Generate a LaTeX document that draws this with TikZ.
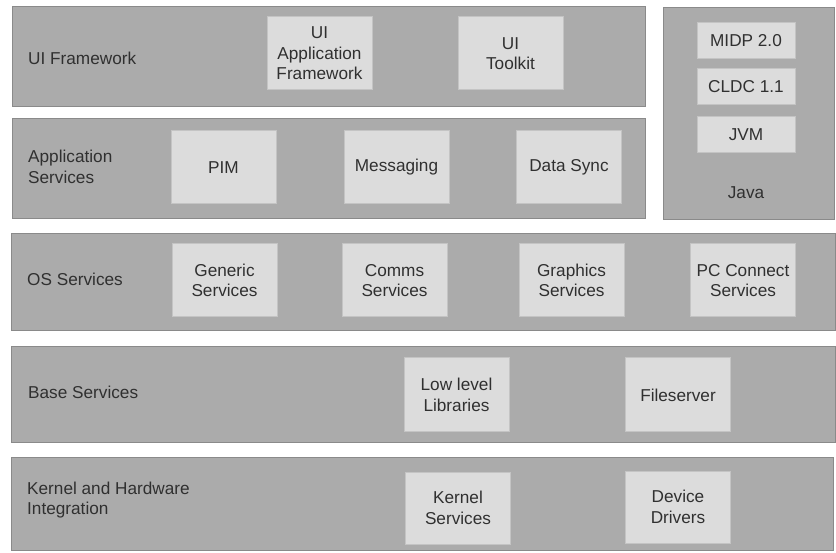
\documentclass[tikz,border=0pt]{standalone}
\usepackage{fontspec}
\setmainfont{Liberation Sans}
\definecolor{bandfill}{HTML}{ABABAB}
\definecolor{banddraw}{HTML}{8A8A8A}
\definecolor{boxfill}{HTML}{DCDCDC}
\definecolor{boxdraw}{HTML}{C4C4C4}
\definecolor{txt}{HTML}{303030}
\begin{document}
\begin{tikzpicture}[x=1pt,y=-1pt,
  every node/.style={font=\fontsize{17.2}{20.5}\selectfont, text=txt, inner sep=0pt},
  band/.style={draw=banddraw, fill=bandfill, line width=1.4pt, anchor=north west},
  inbox/.style={draw=boxdraw, fill=boxfill, line width=1pt, minimum width=105, minimum height=73, align=center},
  jbox/.style={draw=boxdraw, fill=boxfill, line width=1pt, minimum width=98, minimum height=36, align=center},
  lbl/.style={anchor=west, align=left}]
\useasboundingbox (0,0) rectangle (836,553);
% bands
\node[band, minimum width=633, minimum height=100] (uif) at (12,6) {};
\node[band, minimum width=633, minimum height=100] (aps) at (12,118) {};
\node[band, minimum width=171, minimum height=212] (java) at (663,7) {};
\node[band, minimum width=824, minimum height=97] (oss) at (11,233) {};
\node[band, minimum width=824, minimum height=96] (bas) at (11,346) {};
\node[band, minimum width=822, minimum height=93] (ker) at (11,457) {};
% band labels
\node[lbl] (luif) at (28,58) {UI Framework};
\node[lbl] (laps) at (28,167) {Application\\Services};
\node[lbl] (loss) at (27,279) {OS Services};
\node[lbl] (lbas) at (28,392) {Base Services};
\node[lbl] (lker) at (27,500) {Kernel and Hardware\\Integration};
\node (ljava) at (746,193) {Java};
% UI framework
\node[inbox] (uiaf) at (319.5,53.5) {UI\\Application\\Framework};
\node[inbox] (uitk) at (510.5,53.5) {UI\\Toolkit};
% application services
\node[inbox] (pim) at (223.5,167.5) {PIM};
\node[inbox] (msg) at (396.5,167.5) {Messaging};
\node[inbox] (dsync) at (569,167.5) {Data Sync};
% java
\node[jbox] (midp) at (746,41) {MIDP 2.0};
\node[jbox] (cldc) at (746,86.5) {CLDC 1.1};
\node[jbox] (jvm) at (746,135) {JVM};
% OS services
\node[inbox] (gen) at (224.5,280.5) {Generic\\Services};
\node[inbox] (comms) at (394.5,280.5) {Comms\\Services};
\node[inbox] (gfx) at (571.5,280.5) {Graphics\\Services};
\node[inbox] (pcc) at (743,280.5) {PC Connect\\Services};
% base services
\node[inbox, minimum height=74] (lowl) at (456.5,395) {Low level\\Libraries};
\node[inbox, minimum height=74] (fsrv) at (678,395) {Fileserver};
% kernel
\node[inbox, minimum height=72] (ksvc) at (458,508) {Kernel\\Services};
\node[inbox, minimum height=72] (ddrv) at (678,507) {Device\\Drivers};
\end{tikzpicture}
\end{document}
